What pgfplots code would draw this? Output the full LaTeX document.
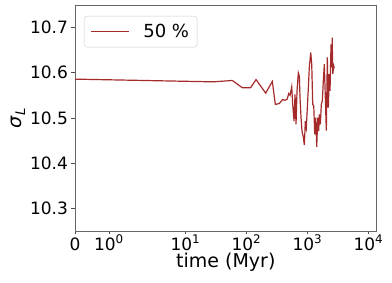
\documentclass[border=0pt]{standalone}
\usepackage{fontspec}
\setmainfont{DejaVu Sans}
\usepackage{pgfplots}
\pgfplotsset{compat=1.18}
\definecolor{linecol}{RGB}{165,42,42}
\begin{document}
\begin{tikzpicture}
\begin{axis}[
  scale only axis,
  width=301.7pt, height=226pt,
  x coord trafo/.code={\pgfmathparse{ifthenelse(#1<=2, #1*0.555556, 1.111111+0.4342945*ln(max(#1,2)/2))}},
  xmin=0, xmax=13677,
  ymin=10.25, ymax=10.75,
  xtick={0,1,10,100,1000,10000},
  xticklabels={0,10\textsuperscript{0},10\textsuperscript{1},10\textsuperscript{2},10\textsuperscript{3},10\textsuperscript{4}},
  ytick={10.3,10.4,10.5,10.6,10.7},
  yticklabel style={/pgf/number format/.cd,fixed,fixed zerofill,precision=1},
  /pgf/number format/assume math mode=true,
  minor tick num=0,
  tick align=outside,
  tick pos=left,
  major tick length=3.5pt,
  every tick/.style={black!70, line width=0.6pt},
  axis line style={black!60, line width=0.7pt},
  tick label style={font=\fontsize{17}{17}\selectfont, text=black},
  xticklabel style={text height=12.5pt, text depth=0pt, inner ysep=3pt},
  xlabel={time (Myr)},
  ylabel={\textit{σ}\textsubscript{\textit{L}}},
  label style={font=\fontsize{19}{19}\selectfont},
  xlabel style={yshift=4pt},
  ylabel style={yshift=-2pt},
  legend style={at={(0,1)}, anchor=north west, xshift=9pt, yshift=-11pt,
    draw=black!20, rounded corners=3pt, fill=white, fill opacity=0.8, text opacity=1,
    font=\fontsize{18}{18}\selectfont, inner xsep=6pt, inner ysep=6pt,
    column sep=12pt},
  legend cell align=left,
  legend image code/.code={\draw[#1, line width=1.2pt] (0pt,0pt) -- (38pt,0pt);},
]
\addplot[linecol, line width=1.2pt] coordinates {
(0,10.586) (28.6,10.580) (58.7,10.583) (85.7,10.567) (117,10.567) (144,10.585)
(207,10.555) (266,10.581) (298,10.530) (346,10.532) (394,10.541) (430,10.539)
(468,10.542) (493,10.554) (519,10.550) (553,10.569) (574,10.530) (604,10.493)
(627,10.552) (651,10.486) (676,10.560) (710,10.600) (737,10.593) (757,10.545)
(786,10.501) (816,10.471) (858,10.457) (891,10.440) (925,10.493) (960,10.479)
(997,10.523) (1036,10.567) (1075,10.612) (1134,10.645) (1177,10.619) (1223,10.530)
(1270,10.527) (1319,10.464) (1369,10.501) (1422,10.436) (1477,10.501) (1533,10.471)
(1568,10.508) (1629,10.486) (1691,10.530) (1756,10.538) (1824,10.582) (1894,10.619)
(1967,10.545) (2043,10.472) (2121,10.634) (2203,10.523) (2288,10.597) (2349,10.560)
(2439,10.663) (2505,10.612) (2550,10.678) (2601,10.597) (2701,10.615) (2763,10.610)
};
\addlegendentry{50 \%}
\end{axis}
\pgfresetboundingbox
\path[use as bounding box] ([xshift=-75pt,yshift=-52pt]current axis.south west) rectangle ([xshift=15.3pt,yshift=5pt]current axis.north east);
\end{tikzpicture}
\end{document}
